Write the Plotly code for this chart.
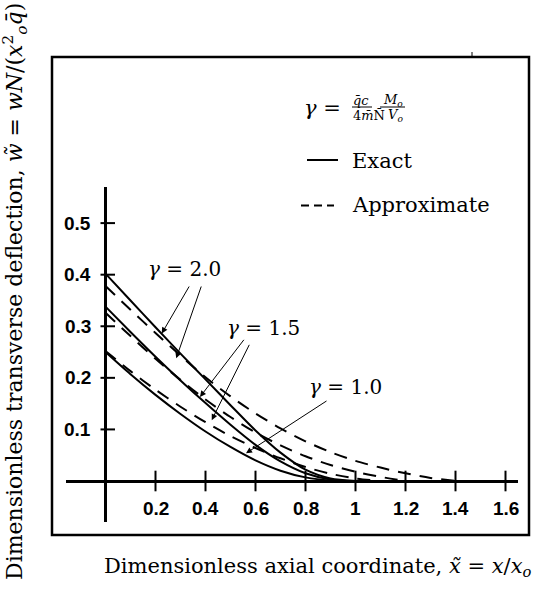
import plotly.graph_objects as go

# ---------------- data ----------------
x_exact = [0.0, 0.1, 0.2, 0.3, 0.4, 0.5, 0.6, 0.7, 0.8, 0.9, 1.0]
exact_g20 = [0.402, 0.350, 0.298, 0.247, 0.197, 0.147, 0.098, 0.055, 0.022, 0.005, 0.0]
exact_g15 = [0.338, 0.289, 0.241, 0.195, 0.151, 0.109, 0.070, 0.038, 0.015, 0.003, 0.0]
exact_g10 = [0.250, 0.207, 0.167, 0.130, 0.096, 0.066, 0.040, 0.020, 0.007, 0.001, 0.0]

x_appr_g20 = [0.0, 0.1, 0.2, 0.3, 0.4, 0.5, 0.6, 0.7, 0.8, 0.9, 1.0, 1.1, 1.2, 1.3, 1.4]
appr_g20 = [0.378, 0.332, 0.287, 0.243, 0.201, 0.164, 0.131, 0.102, 0.077, 0.056, 0.039, 0.026, 0.015, 0.006, 0.0]
x_appr_g15 = [0.0, 0.1, 0.2, 0.3, 0.4, 0.5, 0.6, 0.7, 0.8, 0.9, 1.0, 1.1, 1.2]
appr_g15 = [0.326, 0.281, 0.237, 0.196, 0.158, 0.124, 0.094, 0.069, 0.048, 0.031, 0.018, 0.008, 0.0]
x_appr_g10 = [0.0, 0.1, 0.2, 0.3, 0.4, 0.5, 0.6, 0.7, 0.8, 0.9, 1.0, 1.1]
appr_g10 = [0.252, 0.213, 0.177, 0.144, 0.114, 0.087, 0.064, 0.044, 0.027, 0.014, 0.005, 0.0]

x_ticks = [0.2, 0.4, 0.6, 0.8, 1.0, 1.2, 1.4, 1.6]
x_tick_labels = ["0.2", "0.4", "0.6", "0.8", "1", "1.2", "1.4", "1.6"]
y_ticks = [0.1, 0.2, 0.3, 0.4, 0.5]
y_tick_labels = ["0.1", "0.2", "0.3", "0.4", "0.5"]

# ---------------- figure ----------------
W, H = 537, 594
L, R, T, B = 66, 19, 187, 72
pw, ph = W - L - R, H - T - B


def px(xp):
    return (xp - L) / pw


def py(yp):
    return (H - B - yp) / ph


SERIF = "DejaVu Serif"
SANS = "Liberation Sans"

fig = go.Figure()
lw = 2.0
for xs, ys in [(x_exact, exact_g20), (x_exact, exact_g15), (x_exact, exact_g10)]:
    fig.add_trace(go.Scatter(x=xs, y=ys, mode="lines",
                             line=dict(color="black", width=lw, shape="spline", smoothing=0.8),
                             hoverinfo="skip"))
for xs, ys in [(x_appr_g20, appr_g20), (x_appr_g15, appr_g15), (x_appr_g10, appr_g10)]:
    fig.add_trace(go.Scatter(x=xs, y=ys, mode="lines",
                             line=dict(color="black", width=lw, shape="spline", smoothing=0.8,
                                       dash="13px,9px"),
                             hoverinfo="skip"))

shapes = []
annotations = []


def note(x, y, text, size, family=SERIF, xanchor="center", yanchor="middle", ref="paper", **kw):
    d = dict(x=x, y=y, xref=ref if ref == "paper" else "x", yref=ref if ref == "paper" else "y",
             text=text, showarrow=False, xanchor=xanchor, yanchor=yanchor,
             font=dict(family=family, size=size, color="black"))
    d.update(kw)
    annotations.append(d)


# tick marks (crossing the axes)
for v in x_ticks:
    shapes.append(dict(type="line", xref="x", yref="y", x0=v, x1=v, y0=-0.02, y1=0.02,
                       line=dict(color="black", width=2)))
for v in y_ticks:
    shapes.append(dict(type="line", xref="x", yref="y", x0=-0.02, x1=0.038, y0=v, y1=v,
                       line=dict(color="black", width=2)))

# tick labels
for v, t in zip(x_ticks, x_tick_labels):
    note(v, 0, "<b>%s</b>" % t, 19, family=SANS, ref="data", yshift=-27)
for v, t in zip(y_ticks, y_tick_labels):
    note(0, v, "<b>%s</b>" % t, 19, family=SANS, ref="data", xanchor="right", xshift=-13)

# outer frame
shapes.append(dict(type="rect", xref="paper", yref="paper", x0=px(52), x1=px(529),
                   y0=py(535), y1=py(57), line=dict(color="black", width=2.5)))
shapes.append(dict(type="line", xref="paper", yref="paper", x0=px(472), x1=px(472),
                   y0=py(57), y1=py(52), line=dict(color="black", width=1)))

# legend-like key
shapes.append(dict(type="line", xref="paper", yref="paper", x0=px(307), x1=px(338),
                   y0=py(160), y1=py(160), line=dict(color="black", width=2)))
shapes.append(dict(type="line", xref="paper", yref="paper", x0=px(301), x1=px(334),
                   y0=py(205.5), y1=py(205.5), line=dict(color="black", width=2, dash="8px,5px")))
note(px(350), py(161), "Exact", 21, xanchor="left")
note(px(350), py(205), "Approximate", 21, xanchor="left")

# gamma definition
note(px(322), py(108), "<i>γ</i> =", 21)
note(px(361), py(100), "<i>q\u0304c</i>", 13)
note(px(393), py(100), "<i>M<sub>o</sub></i>", 13)
note(px(369), py(116), "4<i>m\u0304</i>N\u0304", 13)
note(px(395), py(116), "<i>V<sub>o</sub></i>", 13)
shapes.append(dict(type="line", xref="paper", yref="paper", x0=px(352), x1=px(372),
                   y0=py(107), y1=py(107), line=dict(color="black", width=1)))
shapes.append(dict(type="line", xref="paper", yref="paper", x0=px(380), x1=px(405),
                   y0=py(107), y1=py(107), line=dict(color="black", width=1)))

# curve labels with arrows
note(0.314, 0.411, "<i>γ</i> = 2.0", 20, ref="data")
note(0.63, 0.2965, "<i>γ</i> = 1.5", 20, ref="data")
note(0.958, 0.1828, "<i>γ</i> = 1.0", 20, ref="data")

arrows = [
    ((0.338, 0.380), (0.225, 0.286)),
    ((0.385, 0.380), (0.283, 0.238)),
    ((0.558, 0.2766), (0.378, 0.163)),
    ((0.578, 0.2669), (0.425, 0.118)),
    ((0.890, 0.157), (0.562, 0.0537)),
]
for (ax_, ay_), (tx, ty) in arrows:
    annotations.append(dict(x=tx, y=ty, ax=ax_, ay=ay_, xref="x", yref="y", axref="x", ayref="y",
                            text="", showarrow=True, arrowhead=2, arrowsize=1.2, arrowwidth=1,
                            arrowcolor="black", standoff=0))

# axis titles
note(px(15), py(292),
     "Dimensionless transverse deflection, <i>w\u0303</i> = <i>wN</i>/(<i>x</i><sup>2</sup><sub><i>o</i></sub><i>q\u0304</i>)",
     22, textangle=-90)
note(px(318), py(567),
     "Dimensionless axial coordinate, <i>x\u0303</i> = <i>x</i>/<i>x<sub>o</sub></i>", 21)

fig.update_layout(
    width=W, height=H,
    margin=dict(l=L, r=R, t=T, b=B, pad=0),
    paper_bgcolor="white", plot_bgcolor="white",
    showlegend=False,
    xaxis=dict(range=[-0.158, 1.65], showgrid=False, zeroline=True, zerolinecolor="black",
               zerolinewidth=2.5, showticklabels=False, ticks="", showline=False),
    yaxis=dict(range=[-0.0795, 0.570], showgrid=False, zeroline=True, zerolinecolor="black",
               zerolinewidth=2.5, showticklabels=False, ticks="", showline=False),
    shapes=shapes,
    annotations=annotations,
)

fig.write_html("out.html")
